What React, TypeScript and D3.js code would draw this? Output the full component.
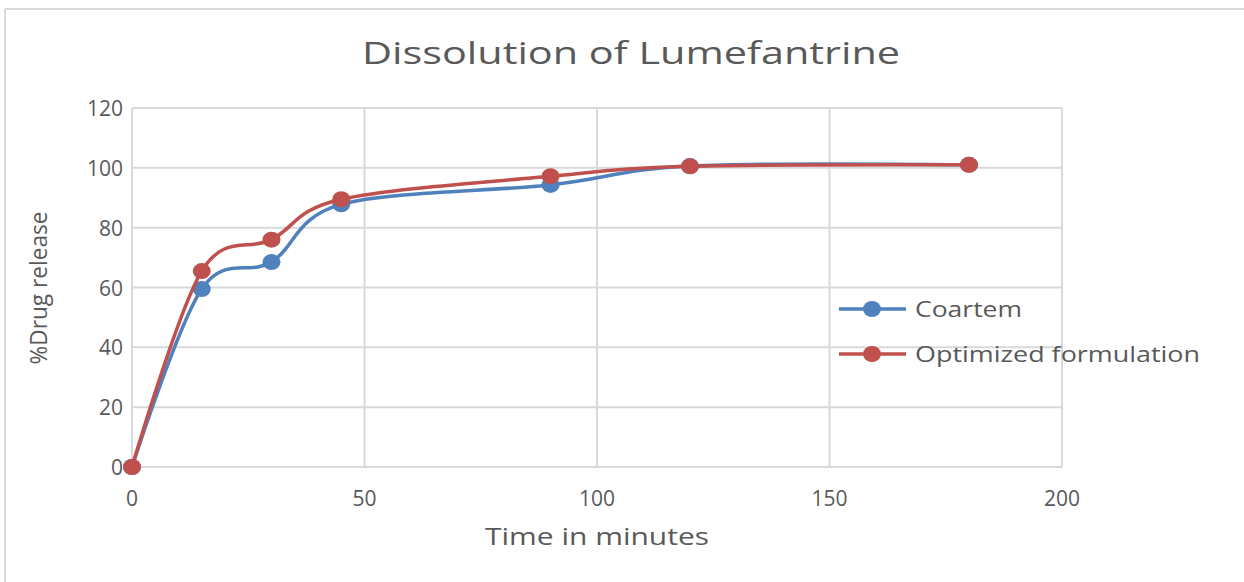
import React from "react";
import * as d3 from "d3";

const times = [0, 15, 30, 45, 90, 120, 180];
const coartem = [0, 59.5, 68.5, 87.8, 94.3, 100.6, 101.0];
const optimized = [0, 65.5, 76.0, 89.5, 97.2, 100.5, 101.0];
const seriesNames = ["Coartem", "Optimized formulation"];
const xTicks = [0, 50, 100, 150, 200];
const yTicks = [0, 20, 40, 60, 80, 100, 120];

const W = 1244;
const H = 582;
const M = { left: 132, right: 1062, top: 108, bottom: 467 };
const COLORS = ["#4f81bd", "#c0504d"];
const TEXT = "#595959";
const GRID = "#d9d9d9";
const FONT = "'Open Sans', 'Noto Sans', sans-serif";

export default function App() {
  const x = d3.scaleLinear().domain([0, 200]).range([M.left, M.right]);
  const y = d3.scaleLinear().domain([0, 120]).range([M.bottom, M.top]);
  const line = d3
    .line<[number, number]>()
    .x((d) => x(d[0]))
    .y((d) => y(d[1]))
    .curve(d3.curveCardinal.tension(0));
  const series = [coartem, optimized].map((vals) =>
    times.map((t, i) => [t, vals[i]] as [number, number])
  );

  return (
    <svg
      width={W}
      height={H}
      style={{ position: "absolute", left: 0, top: 0, background: "#fff" }}
      fontFamily={FONT}
    >
      <rect x={0} y={0} width={W} height={H} fill="#fff" />
      {/* outer frame */}
      <line x1={5} y1={9} x2={W} y2={9} stroke={GRID} strokeWidth={2} />
      <line x1={5} y1={9} x2={5} y2={H} stroke={GRID} strokeWidth={2} />

      {/* title */}
      <text
        x={631}
        y={64}
        textAnchor="middle"
        fontSize={31}
        fill={TEXT}
        textLength={538}
        lengthAdjust="spacingAndGlyphs"
      >
        Dissolution of Lumefantrine
      </text>

      {/* grid */}
      {yTicks.map((t) => (
        <line key={"gy" + t} x1={M.left} x2={M.right} y1={y(t)} y2={y(t)} stroke={GRID} strokeWidth={2} />
      ))}
      {xTicks.map((t) => (
        <line key={"gx" + t} x1={x(t)} x2={x(t)} y1={M.top} y2={M.bottom} stroke={GRID} strokeWidth={2} />
      ))}

      {/* y tick labels */}
      {yTicks.map((t) => (
        <text key={"yt" + t} x={123} y={y(t) + 8} textAnchor="end" fontSize={21} fill={TEXT}>
          {t}
        </text>
      ))}
      {/* x tick labels */}
      {xTicks.map((t) => (
        <text key={"xt" + t} x={x(t)} y={506} textAnchor="middle" fontSize={21} fill={TEXT}>
          {t}
        </text>
      ))}

      {/* axis titles */}
      <text
        x={597}
        y={545}
        textAnchor="middle"
        fontSize={23}
        fill={TEXT}
        textLength={224}
        lengthAdjust="spacingAndGlyphs"
      >
        Time in minutes
      </text>
      <text
        transform={`translate(47, 288) rotate(-90)`}
        textAnchor="middle"
        fontSize={23}
        fill={TEXT}
        textLength={153}
        lengthAdjust="spacingAndGlyphs"
      >
        %Drug release
      </text>

      {/* series */}
      {series.map((s, i) => (
        <g key={"s" + i}>
          <path d={line(s) || ""} fill="none" stroke={COLORS[i]} strokeWidth={3.5} />
          {s.map((d, j) => (
            <ellipse key={j} cx={x(d[0])} cy={y(d[1])} rx={9} ry={8} fill={COLORS[i]} />
          ))}
        </g>
      ))}

      {/* legend */}
      {seriesNames.map((n, i) => {
        const ly = 309 + i * 45;
        const widths = [107, 285];
        return (
          <g key={"l" + i}>
            <line x1={839} x2={906} y1={ly} y2={ly} stroke={COLORS[i]} strokeWidth={3.5} />
            <ellipse cx={872} cy={ly} rx={9} ry={8} fill={COLORS[i]} />
            <text
              x={915}
              y={ly + 8}
              fontSize={22}
              fill={TEXT}
              textLength={widths[i]}
              lengthAdjust="spacingAndGlyphs"
            >
              {n}
            </text>
          </g>
        );
      })}
    </svg>
  );
}
